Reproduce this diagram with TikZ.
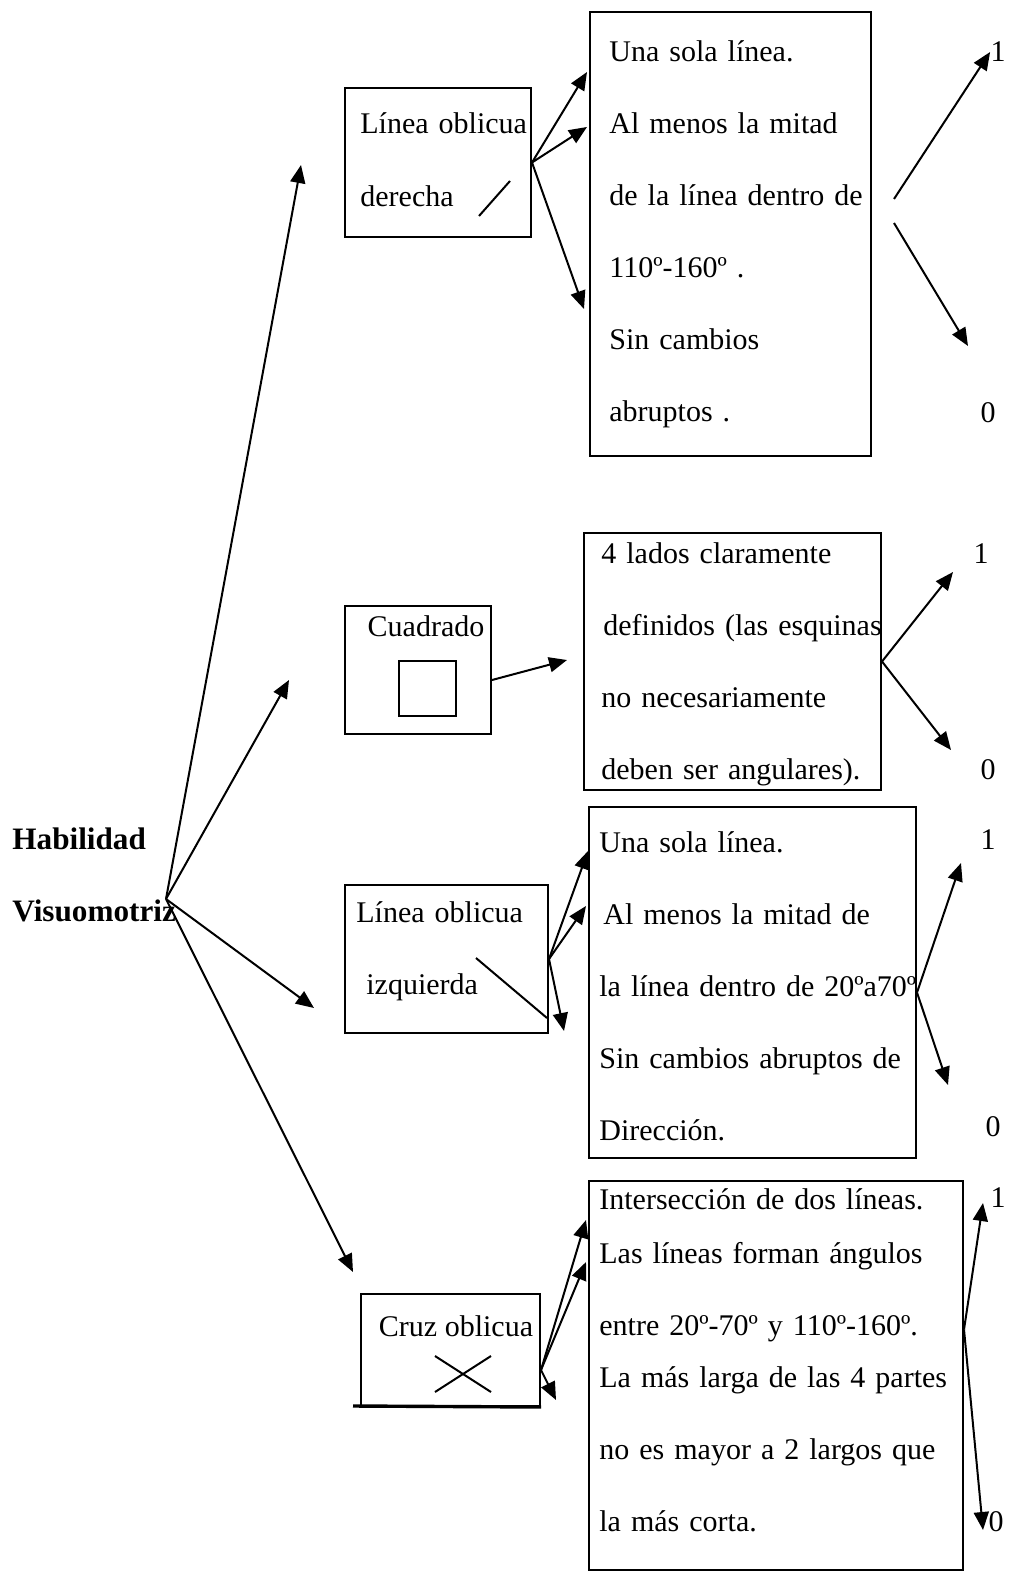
\documentclass[tikz,border=0pt]{standalone}
\usepackage{fontspec}
\setmainfont{Liberation Serif}
\usetikzlibrary{arrows.meta,positioning,fit}

\begin{document}
\begin{tikzpicture}[
    x=0.5pt, y=-0.5pt,
    box/.style={rectangle, draw=black, line width=1pt, inner sep=0pt},
    txt/.style={anchor=base west, inner sep=0pt, align=left, text width=#1, font=\fontsize{15}{36}\selectfont},
    txt/.default=170pt,
    arrow/.style={-{Triangle[length=9pt,width=7.5pt]}, line width=1pt},
    num/.style={inner sep=0pt, font=\fontsize{15}{18}\selectfont}
]
\useasboundingbox (0,0) rectangle (1009,1573);

% raiz
\node[txt=100pt, font=\fontsize{15.6}{36}\selectfont\bfseries] (hab) at (12,849) {Habilidad\\Visuomotriz};
\coordinate (hub) at (166,899);

% linea oblicua derecha
\node[box, fit={(345,88) (531,237)}] (der) {};
\node[txt=100pt] (derTxt) at (360,134) {Línea oblicua\\derecha};
\draw[line width=1pt] (479,216) -- (510,181);
\node[box, fit={(590,12) (871,456)}] (critDer) {};
\node[txt=150pt] (critDerTxt) at (609,62) {Una sola línea.\\Al menos la mitad\\de la línea dentro de\\110º-160º .\\Sin cambios\\abruptos .};

% cuadrado
\node[box, fit={(345,606) (491,734)}] (cua) {};
\node[num] (cuaTxt) at (426,626) {Cuadrado};
\node[box, fit={(399,661) (456,716)}] (cuaIcon) {};
\node[box, fit={(584,533) (881,790)}] (critCua) {};
\node[txt=160pt] (critCuaTxt) at (601,563) {4 lados claramente\\\hspace*{1pt}definidos (las esquinas\\no necesariamente\\deben ser angulares).};

% linea oblicua izquierda
\node[box, fit={(345,885) (548,1033)}] (izq) {};
\node[txt=100pt] (izqTxt) at (356,922) {Línea oblicua\\\hspace*{5pt}izquierda};
\draw[line width=1pt] (476,958) -- (547,1018);
\node[box, fit={(589,807) (916,1158)}] (critIzq) {};
\node[txt=170pt] (critIzqTxt) at (599,852) {Una sola línea.\\\hspace*{2pt}Al menos la mitad de\\la línea dentro de 20ºa70º\\Sin cambios abruptos de\\Dirección.};

% cruz oblicua
\node[box, fit={(361,1294) (540,1406)}] (cruz) {};
\draw[line width=1.7pt] (353,1406) -- (cruz.south east);
\node[num] (cruzTxt) at (456,1326) {Cruz oblicua};
\draw[line width=1pt] (435,1356) -- (491,1392) (435,1392) -- (491,1356);
\node[box, fit={(589,1181) (963,1570)}] (critCruz) {};
\node[txt=190pt] (critCruzTxt) at (599,1209) {Intersección de dos líneas.\\[-9pt]Las líneas forman ángulos\\entre 20º-70º y 110º-160º.\\[-10pt]La más larga de las 4 partes\\no es mayor a 2 largos que\\la más corta.};

% puntajes
\node[num] (uno1) at (998,52) {1};
\node[num] (cero1) at (988,413) {0};
\node[num] (uno2) at (981,554) {1};
\node[num] (cero2) at (988,770) {0};
\node[num] (uno3) at (988,840) {1};
\node[num] (cero3) at (993,1127) {0};
\node[num] (uno4) at (998,1198) {1};
\node[num] (cero4) at (996,1522) {0};

% puntas de flecha libres
\coordinate (pDer) at (301,165);
\coordinate (pCua) at (289,680);
\coordinate (pIzq) at (314,1008);
\coordinate (pCruz) at (353,1272);
\coordinate (qDer1) at (587,72);
\coordinate (qDer2) at (587,127);
\coordinate (qDer3) at (584,309);
\coordinate (zDer) at (968,346);
\coordinate (qCua) at (567,660);
\coordinate (oCua) at (953,572);
\coordinate (zCua) at (951,750);
\coordinate (qIzq1) at (588,851);
\coordinate (qIzq2) at (586,906);
\coordinate (qIzq3) at (564,1031);
\coordinate (oIzq) at (961,863);
\coordinate (zIzq) at (948,1085);
\coordinate (qCruz1) at (586,1220);
\coordinate (qCruz2) at (586,1262);
\coordinate (qCruz3) at (556,1400);
\coordinate (oCruz) at (983,1203);
\coordinate (zCruz) at (983,1530);

\draw[arrow] (hub) -- (pDer);
\draw[arrow] (hub) -- (pCua);
\draw[arrow] (hub) -- (pIzq);
\draw[arrow] (hub) -- (pCruz);

\draw[arrow] (der.east) -- (qDer1);
\draw[arrow] (der.east) -- (qDer2);
\draw[arrow] (der.east) -- (qDer3);
\draw[arrow] ([xshift=11pt,yshift=17.5pt]critDer.east) -- (uno1.west);
\draw[arrow] ([xshift=11pt,yshift=5.5pt]critDer.east) -- (zDer);

\draw[arrow] ([yshift=-5pt]cua.east) -- (qCua);
\draw[arrow] (critCua.east) -- (oCua);
\draw[arrow] (critCua.east) -- (zCua);

\draw[arrow] (izq.east) -- (qIzq1);
\draw[arrow] (izq.east) -- (qIzq2);
\draw[arrow] (izq.east) -- (qIzq3);
\draw[arrow] ([yshift=-5pt]critIzq.east) -- (oIzq);
\draw[arrow] ([yshift=-5pt]critIzq.east) -- (zIzq);

\draw[arrow] ([yshift=-10pt]cruz.east) -- (qCruz1);
\draw[arrow] ([yshift=-10pt]cruz.east) -- (qCruz2);
\draw[arrow] ([yshift=-10pt]cruz.east) -- (qCruz3);
\draw[arrow] ([yshift=23pt]critCruz.east) -- (oCruz);
\draw[arrow] ([yshift=23pt]critCruz.east) -- (zCruz);
\end{tikzpicture}
\end{document}
